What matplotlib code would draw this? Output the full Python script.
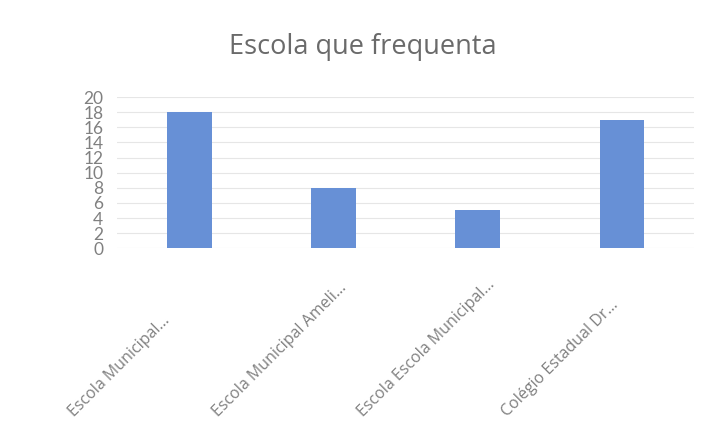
import matplotlib
matplotlib.use("Agg")
import matplotlib.pyplot as plt
import matplotlib.transforms as mtransforms

categories = ["Escola Municipal...", "Escola Municipal Ameli...",
              "Escola Escola Municipal...", "Colégio Estadual Dr..."]
values = [18, 8, 5, 17]
yticks = list(range(0, 21, 2))

plt.rcParams['font.family'] = ['Lato', 'DejaVu Sans']

fig = plt.figure(figsize=(7.06, 4.41), dpi=100)
fig.patch.set_facecolor('white')
ax = fig.add_axes([0.166, 0.437, 0.817, 0.343])

x = list(range(len(categories)))
ax.bar(x, values, width=0.31, color='#6790d6', zorder=3)
ax.set_ylim(0, 20)
ax.set_xlim(-0.5, len(categories) - 0.5)
ax.set_yticks(yticks)
ax.set_yticklabels([str(t) for t in yticks], fontsize=12.5, color='#808080')
ax.set_xticks(x)
ax.set_xticklabels([''] * len(categories))
ax.tick_params(axis='y', length=0, pad=10)
ax.tick_params(axis='x', length=0)
ax.grid(axis='y', color='#e6e6e6', linewidth=0.8, zorder=0)
for s in ax.spines.values():
    s.set_visible(False)

# category labels: rotated 45 degrees, starting below-left of each tick
trans = mtransforms.offset_copy(ax.get_xaxis_transform(), fig=fig,
                                x=-115, y=-169, units='dots')
for xi, lab in zip(x, categories):
    ax.text(xi, 0, lab, transform=trans, rotation=45, rotation_mode='anchor',
            ha='left', va='baseline', fontsize=11.5, color='#808080',
            family=['Open Sans', 'DejaVu Sans'])

fig.text(0.514, 0.893, "Escola que frequenta", ha='center', va='center',
         fontsize=19.5, color='#6a6a6a', family=['Open Sans', 'DejaVu Sans'])

fig.savefig("out.png", dpi=100, facecolor='white')
